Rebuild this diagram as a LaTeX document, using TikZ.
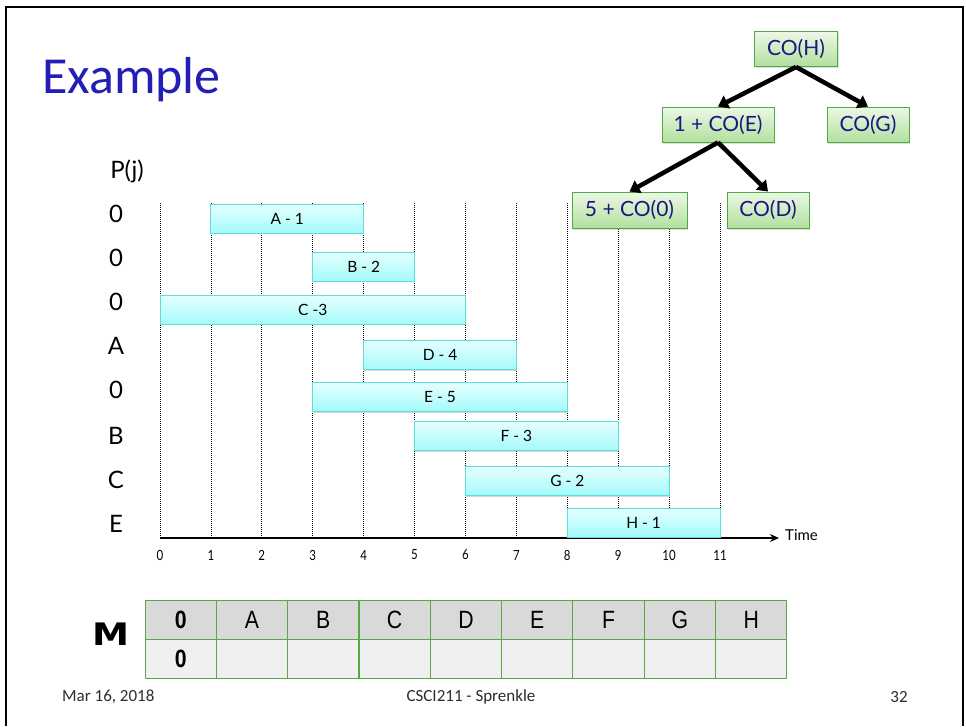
\documentclass[tikz,border=0pt]{standalone}
\usepackage{fontspec}
\setmainfont{Lato}
\newfontfamily\calib{Carlito}
\newfontfamily\narrowsans[FakeStretch=0.82]{Lato}
\newfontfamily\tabfont[FakeStretch=0.85]{Liberation Sans}
\newfontfamily\mfont[FakeStretch=1.2]{DejaVu Sans}
\usetikzlibrary{arrows.meta,shadows}

\definecolor{titleblue}{RGB}{34,30,182}
\definecolor{treetext}{RGB}{24,24,128}
\definecolor{treeedge}{RGB}{78,170,66}
\definecolor{treetop}{RGB}{236,248,230}
\definecolor{treebot}{RGB}{178,224,158}
\definecolor{baredge}{RGB}{90,222,222}
\definecolor{bartop}{RGB}{230,255,255}
\definecolor{barbot}{RGB}{164,250,250}
\definecolor{tabedge}{RGB}{88,168,70}
\definecolor{hdrgray}{RGB}{217,217,217}
\definecolor{rowgray}{RGB}{240,240,240}
\definecolor{foot}{RGB}{45,45,45}

\begin{document}
\begin{tikzpicture}[x=1pt,y=-1pt,
  treebox/.style={draw=treeedge, line width=0.9pt, top color=treetop, bottom color=treebot,
    text=treetext, font=\fontsize{21}{24}\selectfont, inner sep=0pt,
    drop shadow={opacity=0.25, shadow xshift=1pt, shadow yshift=-1.5pt}},
  treearrow/.style={line width=4.5pt, -{Triangle[length=10pt,width=14pt]}},
  bar/.style={draw=baredge, line width=1pt, top color=bartop, bottom color=barbot,
    minimum height=29pt, inner sep=0pt, font=\fontsize{15.5}{17}\selectfont,
    drop shadow={opacity=0.3, shadow xshift=0.8pt, shadow yshift=-1.2pt}},
  plab/.style={font=\fontsize{24}{28}\selectfont, inner sep=0pt},
  ticklab/.style={font=\narrowsans\fontsize{14}{16}\selectfont, inner sep=0pt},
  grid/.style={line width=0.8pt, dash pattern=on 0.9pt off 1.1pt},
  cell/.style={draw=tabedge, line width=1pt, minimum width=71.33pt, minimum height=39pt,
    inner sep=0pt, font=\tabfont\fontsize{25}{28}\selectfont},
  foottext/.style={font=\calib\fontsize{17}{20}\selectfont, text=foot, inner sep=0pt}
]
\useasboundingbox (0,0) rectangle (966,726);
\fill[white] (0,0) rectangle (966,726);

% slide frame
\draw[line width=2pt] (6,726) -- (6,7) -- (963,7) -- (963,726);

% title
\node[anchor=base west, inner sep=0pt, text=titleblue, font=\calib\fontsize{52}{56}\selectfont]
  (title) at (42,93) {Example};

\node[plab] (pj) at (127,171) {P(j)};

% dotted time grid
\foreach \i in {0,...,11}{
  \draw[grid] ({160+\i*50.91},203) -- ({160+\i*50.91},538);
  \node[ticklab] (t\i) at ({160+\i*50.91},555) {\i};
}

% time axis
\coordinate (origin) at (160,538);
\coordinate (axisend) at (779,538);
\draw[line width=1.6pt, -{Stealth[length=9pt,width=8pt]}] (origin) -- (axisend);
\node[anchor=west, inner sep=0pt, font=\fontsize{15}{17}\selectfont] (time) at (785,535) {Time};

% jobs as bars and their predecessors p(j)
\foreach \nm/\s/\e/\lab/\yc/\p/\py in {
   A/1/4/{A - 1}/218.5/0/214,
   B/3/5/{B - 2}/266.5/0/258,
   C/0/6/{C -3}/309.5/0/302,
   D/4/7/{D - 4}/355/A/346,
   E/3/8/{E - 5}/397/0/390,
   F/5/9/{F - 3}/436/B/436,
   G/6/10/{G - 2}/481/C/480,
   H/8/11/{H - 1}/522.5/E/524}{
  \pgfmathsetmacro\w{(\e-\s)*50.91}
  \pgfmathsetmacro\cx{160+(\s+\e)/2*50.91}
  \node[bar, minimum width=\w pt] (bar\nm) at (\cx,\yc) {\lab};
  \node[plab] (p\nm) at (116,\py) {\p};
}

% recursion tree
\node[treebox, minimum width=83pt, minimum height=35pt] (coH) at (796,49) {CO(H)};
\node[treebox, minimum width=112pt, minimum height=35pt] (coE) at (718,124.5) {1 + CO(E)};
\node[treebox, minimum width=82pt, minimum height=35pt] (coG) at (868,124.5) {CO(G)};
\node[treebox, minimum width=115pt, minimum height=36pt] (co0) at (629.5,210) {5 + CO(0)};
\node[treebox, minimum width=82pt, minimum height=36pt] (coD) at (768,210) {CO(D)};
\draw[treearrow] (coH.south) -- (coE.north);
\draw[treearrow] (coH.south) -- (coG.north);
\draw[treearrow] (coE.south) -- (co0.north);
\draw[treearrow] (coE.south) -- (coD.north);

% memo table M
\node[inner sep=0pt, font=\mfont\bfseries\fontsize{31}{34}\selectfont] (M) at (111,634) {M};
\foreach \lab [count=\i from 0] in {{\bfseries 0},A,B,C,D,E,F,G,H}{
  \node[cell, fill=hdrgray] (h\i) at ({180.67+\i*71.33},619.5) {\lab};
}
\node[cell, fill=rowgray] (m0) at (180.67,658.5) {\bfseries 0};
\foreach \i in {1,...,8}{
  \node[cell, fill=rowgray] (m\i) at ({180.67+\i*71.33},658.5) {};
}

% footer
\node[foottext, anchor=west] (date) at (62,697) {Mar 16, 2018};
\node[foottext] (course) at (471,697) {CSCI211 - Sprenkle};
\node[foottext] (page) at (899,697) {32};
\end{tikzpicture}
\end{document}
